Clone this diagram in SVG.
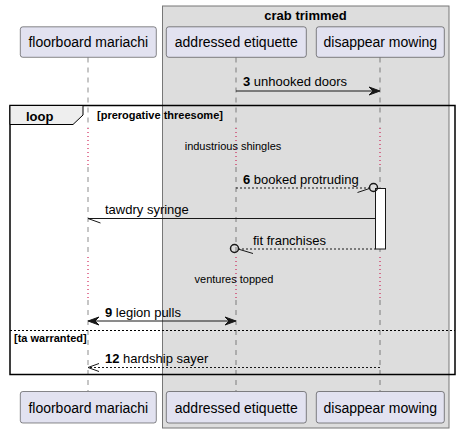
<svg xmlns="http://www.w3.org/2000/svg" width="460" height="433" viewBox="0 0 460 433">
<defs>
<style>
text{font-family:"Liberation Sans",Arial,sans-serif;fill:#000}
.pn{font-size:14px;text-anchor:middle}
.msg{font-size:13px}
.b{font-weight:bold}
.small{font-size:11px}
.pbox{fill:#E2E2F0;stroke:#181818;stroke-width:0.5}
.life{stroke:#181818;stroke-width:0.5;stroke-dasharray:5,5;fill:none}
.delay{stroke:#C8003C;stroke-width:1;stroke-dasharray:1,3;fill:none}
.line{stroke:#181818;stroke-width:1;fill:none}
.dash{stroke:#181818;stroke-width:1;stroke-dasharray:2,2;fill:none}
.head{fill:#181818;stroke:#181818;stroke-width:1}
</style>
</defs>
<rect id="box-crab" x="162.5" y="6" width="286.5" height="422" fill="#DDDDDD" stroke="#777777" stroke-width="1"/>
<text x="305.5" y="19.5" class="msg b" text-anchor="middle">crab trimmed</text>
<g id="lifelines">
<path class="life" d="M88,57.5 V128 M88,167 V257 M88,300 V391"/>
<path class="life" d="M236,57.5 V128 M236,167 V257 M236,300 V391"/>
<path class="life" d="M380,57.5 V128 M380,167 V257 M380,300 V391"/>
<path class="delay" d="M88,128 V167 M236,128 V167 M380,128 V167 M88,257 V300 M236,257 V300 M380,257 V300"/>
</g>
<rect id="activation" x="375.5" y="188.5" width="10" height="60.5" fill="#FFFFFF" stroke="#181818" stroke-width="1"/>
<g id="connectors">
<g id="m3">
<line class="line" x1="236" y1="91" x2="378" y2="91"/>
<polygon class="head" points="380,91 369,87 373,91 369,95"/>
<text x="243" y="86" class="msg"><tspan class="b">3</tspan> unhooked doors</text>
</g>
<text x="233" y="150" class="small" text-anchor="middle">industrious shingles</text>
<g id="m6">
<line class="dash" x1="236" y1="188" x2="369.5" y2="188"/>
<line class="line" x1="357.5" y1="192.5" x2="370" y2="188.3"/>
<circle cx="373.5" cy="187.5" r="4" fill="none" stroke="#181818" stroke-width="1.5"/>
<text x="243" y="184" class="msg"><tspan class="b">6</tspan> booked protruding</text>
</g>
<g id="m7">
<line class="line" x1="375.5" y1="218.5" x2="88" y2="218.5"/>
<line class="line" x1="88" y1="218.5" x2="100.5" y2="223"/>
<text x="105" y="214" class="msg">tawdry syringe</text>
</g>
<g id="m8">
<line class="dash" x1="238" y1="249" x2="375.5" y2="249"/>
<line class="line" x1="238" y1="249" x2="253" y2="253.5"/>
<circle cx="234.5" cy="248.5" r="4" fill="none" stroke="#181818" stroke-width="1.5"/>
<text x="253" y="245" class="msg">fit franchises</text>
</g>
<text x="234" y="283" class="small" text-anchor="middle">ventures topped</text>
<g id="m9">
<line class="line" x1="90" y1="321" x2="234" y2="321"/>
<polygon class="head" points="88,321 99,317 95,321 99,325"/>
<polygon class="head" points="236,321 225,317 229,321 225,325"/>
<text x="105" y="316.5" class="msg"><tspan class="b">9</tspan> legion pulls</text>
</g>
<g id="m12">
<line class="dash" x1="380" y1="367.5" x2="89" y2="367.5"/>
<path class="line" d="M99,363.5 L88,367.5 L99,371.5"/>
<text x="105" y="363" class="msg"><tspan class="b">12</tspan> hardship sayer</text>
</g>
</g>
<g id="loop">
<rect x="10" y="105.5" width="445" height="269" fill="none" stroke="#000" stroke-width="1.5"/>
<polygon points="10,105.5 83,105.5 83,115 73,124.5 10,124.5" fill="#EEEEEE" stroke="#000" stroke-width="1"/>
<text x="26" y="120.5" class="msg b">loop</text>
<text x="97" y="119" class="small b">[prerogative threesome]</text>
<line x1="10" y1="330.5" x2="455" y2="330.5" stroke="#000" stroke-width="1" stroke-dasharray="2,2"/>
<text x="14" y="341.5" class="small b">[ta warranted]</text>
</g>
<g id="p-floorboard">
<rect class="pbox" x="20.3" y="26.8" width="136" height="30.5" rx="2.5"/>
<text x="88.3" y="47" class="pn">floorboard mariachi</text>
<rect class="pbox" x="20.3" y="391.5" width="136" height="31.5" rx="2.5"/>
<text x="88.3" y="412.5" class="pn">floorboard mariachi</text>
</g>
<g id="p-addressed">
<rect class="pbox" x="166.3" y="26.8" width="140" height="30.5" rx="2.5"/>
<text x="236.3" y="47" class="pn">addressed etiquette</text>
<rect class="pbox" x="166.3" y="391.5" width="140" height="31.5" rx="2.5"/>
<text x="236.3" y="412.5" class="pn">addressed etiquette</text>
</g>
<g id="p-disappear">
<rect class="pbox" x="316.3" y="26.8" width="128" height="30.5" rx="2.5"/>
<text x="380.3" y="47" class="pn">disappear mowing</text>
<rect class="pbox" x="316.3" y="391.5" width="128" height="31.5" rx="2.5"/>
<text x="380.3" y="412.5" class="pn">disappear mowing</text>
</g>
</svg>
